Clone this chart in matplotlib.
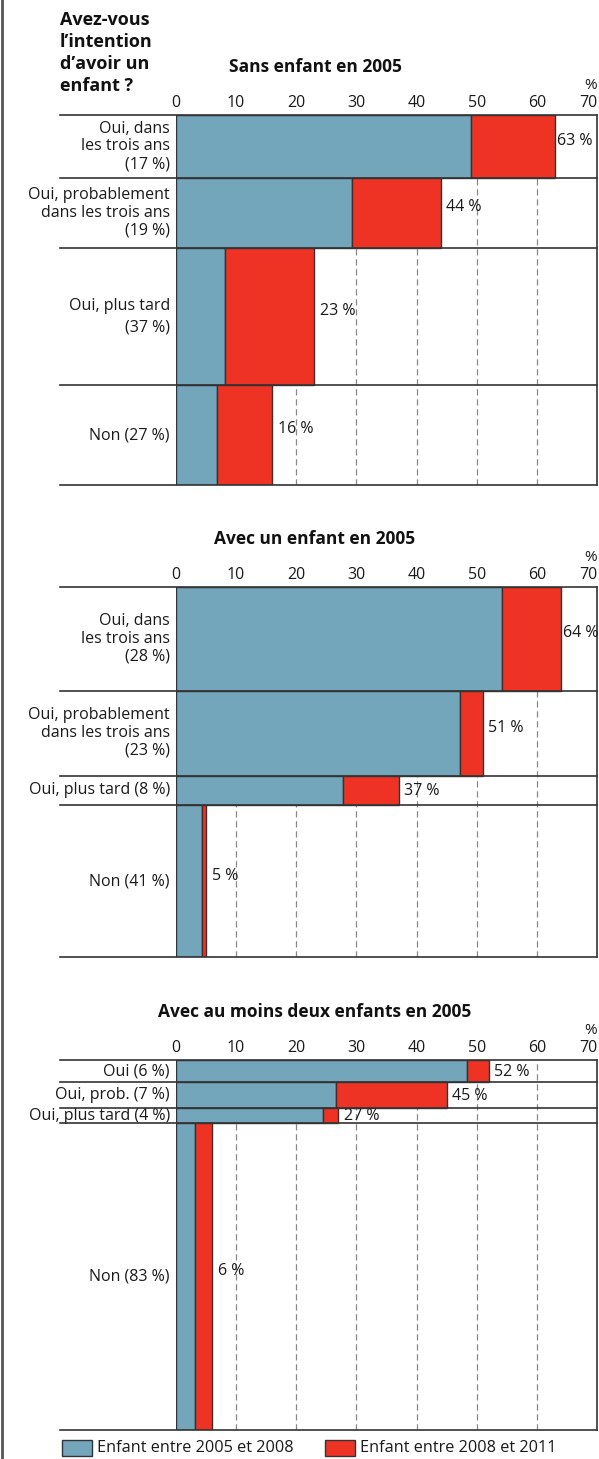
import matplotlib.pyplot as plt
import numpy as np

plt.rcParams['font.family'] = ['Open Sans', 'DejaVu Sans']

# intention d'avoir un enfant en 2005 : part de chaque groupe (hauteur des barres)
labels_0 = ["Oui, dans\nles trois ans\n(17 %)", "Oui, probablement\ndans les trois ans\n(19 %)",
            "Oui, plus tard\n(37 %)", "Non (27 %)"]
shares_0 = [17, 19, 37, 27]
birth_05_08_0 = [49, 29.3, 8.2, 6.8]
total_0 = [63, 44, 23, 16]

labels_1 = ["Oui, dans\nles trois ans\n(28 %)", "Oui, probablement\ndans les trois ans\n(23 %)",
            "Oui, plus tard (8 %)", "Non (41 %)"]
shares_1 = [28, 23, 8, 41]
birth_05_08_1 = [54.2, 47.3, 27.7, 4.3]
total_1 = [64, 51, 37, 5]

labels_2 = ["Oui (6 %)", "Oui, prob. (7 %)", "Oui, plus tard (4 %)", "Non (83 %)"]
shares_2 = [6, 7, 4, 83]
birth_05_08_2 = [48.4, 26.6, 24.5, 3.2]
total_2 = [52, 45, 27, 6]

titles = ["Sans enfant en 2005", "Avec un enfant en 2005", "Avec au moins deux enfants en 2005"]
ticks = [0, 10, 20, 30, 40, 50, 60, 70]

blue = "#73a5bb"
red = "#ee3224"
edge = "#333333"
txt = "#1a1a1a"

W, H = 599, 1459
fig = plt.figure(figsize=(W / 100, H / 100), dpi=100)


def box(x0, y0, x1, y1):
    return [x0 / W, 1 - y1 / H, (x1 - x0) / W, (y1 - y0) / H]


ax_left, ax_right, lab_left = 176, 597, 60
panels = [
    (labels_0, shares_0, birth_05_08_0, total_0, 115),
    (labels_1, shares_1, birth_05_08_1, total_1, 587),
    (labels_2, shares_2, birth_05_08_2, total_2, 1060),
]

for (labels, shares, blue_v, tot, top), title in zip(panels, titles):
    ax = fig.add_axes(box(ax_left, top, ax_right, top + 370))
    shares = np.array(shares, dtype=float)
    bounds = np.concatenate([[0], np.cumsum(shares)])
    centers = bounds[:-1] + shares / 2
    blue_v = np.array(blue_v)
    red_v = np.array(tot) - blue_v

    ax.barh(centers, blue_v, height=shares, color=blue, edgecolor=edge, linewidth=1, zorder=3)
    ax.barh(centers, red_v, left=blue_v, height=shares, color=red, edgecolor=edge, linewidth=1, zorder=3)

    for c, s, t, lab in zip(centers, shares, tot, labels):
        dy = 4 if s > 15 else -0.5
        dx = 4 if t < 62 else 1.5
        ax.annotate(f"{t} %", (t, c), xytext=(dx, dy), textcoords='offset points',
                    va='center', ha='left', fontsize=11.5, color=txt, zorder=4)
        ls = 1.45 if lab.count("\n") == 1 else 1.15
        ax.text(-1.0, c, lab, va='center', ha='right', fontsize=11.5, color=txt,
                linespacing=ls, zorder=4)

    # separators extending under the row labels
    frac = (ax_left - lab_left) / (ax_right - ax_left)
    for b in bounds:
        ax.plot([-frac * 70, 70], [b, b], color=edge, linewidth=1.2, clip_on=False, zorder=5)

    ax.set_xlim(0, 70)
    ax.set_ylim(100, 0)
    ax.set_yticks([])
    ax.xaxis.tick_top()
    ax.set_xticks(ticks)
    ax.tick_params(axis='x', length=0, pad=3, labelsize=11.5, labelcolor=txt)
    ax.get_xticklabels()[-1].set_horizontalalignment('right')
    for x in ticks[1:-1]:
        ax.axvline(x, color="#888888", linestyle=(0, (5, 3)), linewidth=0.9, zorder=1)
    for s in ['left', 'top', 'bottom']:
        ax.spines[s].set_visible(False)
    ax.spines['right'].set_color(edge)
    ax.spines['right'].set_linewidth(1.2)

    ax.text(1.0, 1.06, "%", transform=ax.transAxes, ha='right', va='bottom', fontsize=11,
            color=txt)
    fig.text(315 / W, 1 - (top - 48) / H, title, ha='center', va='center', fontsize=12.5,
             fontweight='bold', color="#111111")

fig.text(60 / W, 1 - 11 / H, "Avez-vous\nl\u2019intention\nd\u2019avoir un\nenfant ?", ha='left', va='top',
         fontsize=13, fontweight='bold', color="#111111", linespacing=1.28)

# legend
fig.patches.append(plt.Rectangle((62 / W, 1 - 1456 / H), 30 / W, 16 / H, transform=fig.transFigure,
                                 facecolor=blue, edgecolor=edge, linewidth=1))
fig.text(97 / W, 1 - 1448 / H, "Enfant entre 2005 et 2008", ha='left', va='center', fontsize=11.7,
         color=txt)
fig.patches.append(plt.Rectangle((325 / W, 1 - 1456 / H), 30 / W, 16 / H, transform=fig.transFigure,
                                 facecolor=red, edgecolor=edge, linewidth=1))
fig.text(360 / W, 1 - 1448 / H, "Enfant entre 2008 et 2011", ha='left', va='center', fontsize=11.7,
         color=txt)

# left border
fig.add_artist(plt.Line2D([2 / W, 2 / W], [0, 1], transform=fig.transFigure, color="#555555", linewidth=2))

fig.savefig("out.png", dpi=100)
